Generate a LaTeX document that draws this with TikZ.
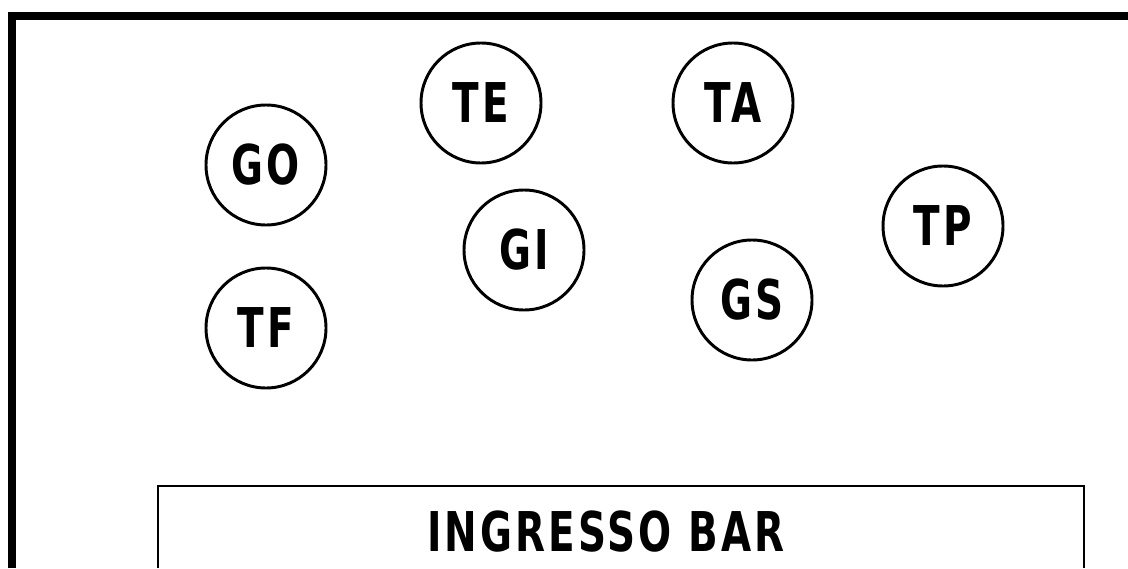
\documentclass[tikz,border=0pt]{standalone}
\usepackage{fontspec}
\usepackage{tikz}
\newfontfamily\tagfont{DejaVu Sans}[LetterSpace=8, BoldFont={DejaVu Sans Bold}]
\newcommand{\narrow}[1]{\scalebox{0.71}[1]{#1}}

\tikzset{
  seat/.style={circle, draw, line width=2.1pt, minimum size=3cm, inner sep=0pt,
    font=\tagfont\bfseries\fontsize{39}{39}\selectfont},
}

\begin{document}
\begin{tikzpicture}[x=0.25mm, y=-0.25mm]
\useasboundingbox (0, 0) rectangle (1128, 568);

\draw[line width=5.5pt] (12, 568) -- (12, 16) -- (1128, 16);

\draw[line width=2pt] (158, 568) -- (158, 486) -- (1084, 486) -- (1084, 568);
\node (bar) at (606, 532) {\tagfont\bfseries\fontsize{39}{39}\selectfont \narrow{INGRESSO BAR}};

\node[seat] (go) at (266, 165) {\narrow{GO}};
\node[seat] (tf) at (266, 328) {\narrow{TF}};
\node[seat] (te) at (481, 103) {\narrow{TE}};
\node[seat] (gi) at (524, 250) {\narrow{GI}};
\node[seat] (ta) at (733, 103) {\narrow{TA}};
\node[seat] (gs) at (752, 300) {\narrow{GS}};
\node[seat] (tp) at (943, 226) {\narrow{TP}};
\end{tikzpicture}
\end{document}
